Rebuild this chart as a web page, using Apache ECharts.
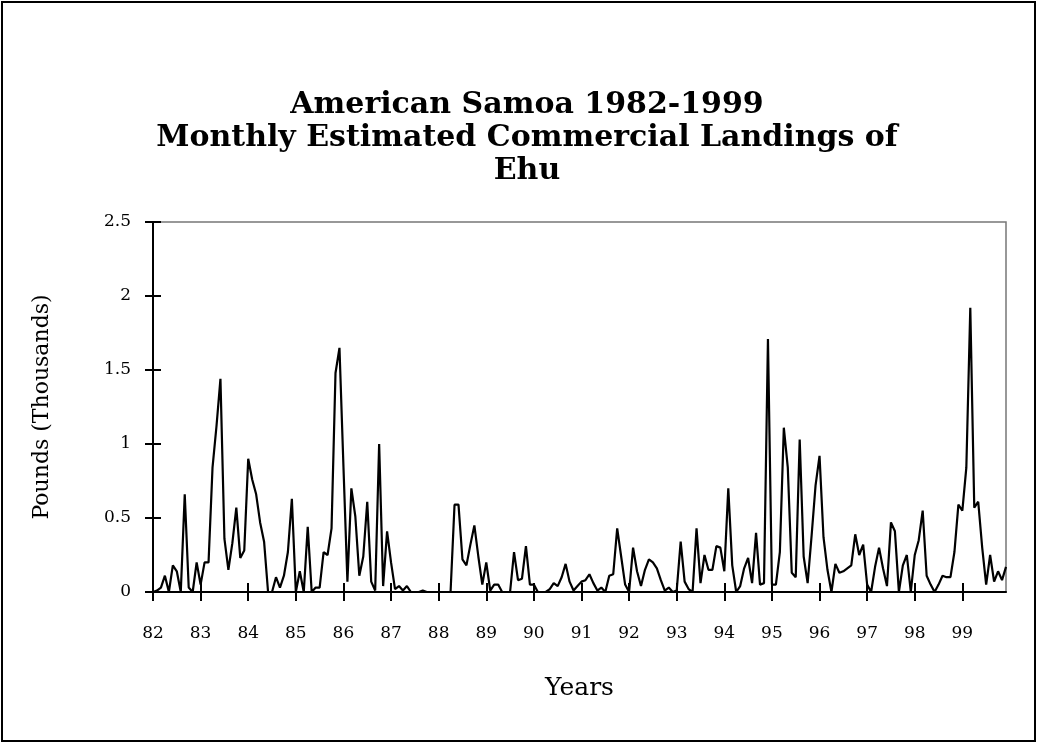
<!DOCTYPE html>
<html>
<head>
<meta charset="utf-8">
<script src="https://cdn.jsdelivr.net/npm/echarts@6/dist/echarts.min.js"></script>
<style>
html,body{margin:0;padding:0;background:#fff;}
#chart{width:1037px;height:743px;}
</style>
</head>
<body>
<div id="chart"></div>
<script>
const years = ['82','83','84','85','86','87','88','89','90','91','92','93','94','95','96','97','98','99'];
const yTicks = [0, 0.5, 1, 1.5, 2, 2.5];
const landings1982 = [0, 0.01, 0.03, 0.11, 0, 0.18, 0.14, 0, 0.66, 0.03, 0, 0.2];
const landings1983 = [0.05, 0.2, 0.2, 0.84, 1.12, 1.44, 0.36, 0.15, 0.33, 0.57, 0.23, 0.28];
const landings1984 = [0.9, 0.76, 0.66, 0.47, 0.34, 0, 0, 0.1, 0.03, 0.11, 0.27, 0.63];
const landings1985 = [0, 0.14, 0, 0.44, 0, 0.03, 0.03, 0.27, 0.25, 0.43, 1.48, 1.65];
const landings1986 = [0.85, 0.07, 0.7, 0.51, 0.11, 0.24, 0.61, 0.07, 0.01, 1.0, 0.04, 0.41];
const landings1987 = [0.2, 0.02, 0.04, 0.01, 0.04, 0, 0, 0, 0.01, 0, 0, 0];
const landings1988 = [0, 0, 0, 0, 0.59, 0.59, 0.22, 0.18, 0.32, 0.45, 0.24, 0.05];
const landings1989 = [0.2, 0.01, 0.05, 0.05, 0, 0, 0, 0.27, 0.08, 0.09, 0.31, 0.05];
const landings1990 = [0.05, 0, 0, 0, 0.02, 0.06, 0.04, 0.1, 0.19, 0.07, 0.01, 0.04];
const landings1991 = [0.07, 0.08, 0.12, 0.06, 0.01, 0.03, 0, 0.11, 0.12, 0.43, 0.24, 0.05];
const landings1992 = [0, 0.3, 0.14, 0.04, 0.15, 0.22, 0.2, 0.16, 0.08, 0.01, 0.03, 0];
const landings1993 = [0.01, 0.34, 0.07, 0.02, 0, 0.43, 0.06, 0.25, 0.15, 0.15, 0.31, 0.3];
const landings1994 = [0.14, 0.7, 0.18, 0, 0.04, 0.16, 0.23, 0.06, 0.4, 0.05, 0.06, 1.71];
const landings1995 = [0.05, 0.05, 0.27, 1.11, 0.84, 0.13, 0.1, 1.03, 0.24, 0.06, 0.38, 0.72];
const landings1996 = [0.92, 0.37, 0.15, 0, 0.19, 0.13, 0.14, 0.16, 0.18, 0.39, 0.25, 0.32];
const landings1997 = [0.05, 0, 0.17, 0.3, 0.16, 0.04, 0.47, 0.41, 0, 0.18, 0.25, 0];
const landings1998 = [0.25, 0.35, 0.55, 0.11, 0.05, 0, 0.05, 0.11, 0.1, 0.1, 0.27, 0.59];
const landings1999 = [0.55, 0.84, 1.92, 0.57, 0.61, 0.3, 0.05, 0.25, 0.07, 0.14, 0.08, 0.17];

const allYears = [landings1982, landings1983, landings1984, landings1985, landings1986, landings1987,
  landings1988, landings1989, landings1990, landings1991, landings1992, landings1993,
  landings1994, landings1995, landings1996, landings1997, landings1998, landings1999];

const categories = [];
const values = [];
allYears.forEach((arr, yi) => {
  arr.forEach((v, m) => {
    categories.push(m === 0 ? years[yi] : years[yi] + '-' + (m + 1));
    values.push(v);
  });
});

const serif = 'DejaVu Serif';
const chart = echarts.init(document.getElementById('chart'), null, {renderer: 'canvas'});
const xCommon = {
  type: 'category',
  data: categories,
  boundaryGap: false,
  position: 'bottom'
};
chart.setOption({
  animation: false,
  backgroundColor: '#fff',
  title: {
    text: 'American Samoa 1982-1999\nMonthly Estimated Commercial Landings of\nEhu',
    left: 522,
    top: 84,
    textAlign: 'center',
    textStyle: {fontFamily: serif, fontWeight: 'bold', fontSize: 30, lineHeight: 33, color: '#000'}
  },
  graphic: [{
    type: 'rect',
    shape: {x: 2, y: 2, width: 1033, height: 739},
    style: {fill: 'none', stroke: '#000', lineWidth: 2},
    silent: true
  }],
  grid: {left: 153, right: 31, top: 222, bottom: 151, show: true, borderColor: '#777', borderWidth: 1.5, backgroundColor: 'transparent'},
  xAxis: [
    Object.assign({}, xCommon, {
      name: 'Years',
      nameLocation: 'middle',
      nameGap: 84,
      nameTextStyle: {fontFamily: serif, fontSize: 25, color: '#000'},
      axisLine: {show: true, lineStyle: {color: '#000', width: 2}},
      axisTick: {show: true, interval: 11, length: 9, lineStyle: {color: '#000', width: 2}},
      axisLabel: {interval: 11, margin: 33, fontFamily: serif, fontSize: 17, color: '#000',
        formatter: v => v.indexOf('-') >= 0 ? '' : v},
      splitLine: {show: false}
    }),
    Object.assign({}, xCommon, {
      axisLine: {show: false},
      axisTick: {show: true, inside: true, interval: 11, length: 9, lineStyle: {color: '#000', width: 2}},
      axisLabel: {show: false},
      splitLine: {show: false}
    })
  ],
  yAxis: [
    {
      type: 'value', min: yTicks[0], max: yTicks[yTicks.length - 1], interval: 0.5,
      name: 'Pounds (Thousands)',
      nameLocation: 'middle',
      nameGap: 100,
      nameTextStyle: {fontFamily: serif, fontSize: 22, color: '#000'},
      axisLine: {show: true, lineStyle: {color: '#000', width: 2}},
      axisTick: {show: true, length: 8, lineStyle: {color: '#000', width: 2}},
      axisLabel: {margin: 22, fontFamily: serif, fontSize: 17, color: '#000'},
      splitLine: {show: false}
    },
    {
      type: 'value', min: yTicks[0], max: yTicks[yTicks.length - 1], interval: 0.5,
      position: 'left',
      axisLine: {show: false},
      axisTick: {show: true, inside: true, length: 8, lineStyle: {color: '#000', width: 2}},
      axisLabel: {show: false},
      splitLine: {show: false}
    }
  ],
  series: [{
    type: 'line',
    data: values,
    xAxisIndex: 0,
    yAxisIndex: 0,
    showSymbol: false,
    symbol: 'none',
    lineStyle: {color: '#000', width: 2.2},
    z: 3
  }]
});
</script>
</body>
</html>
